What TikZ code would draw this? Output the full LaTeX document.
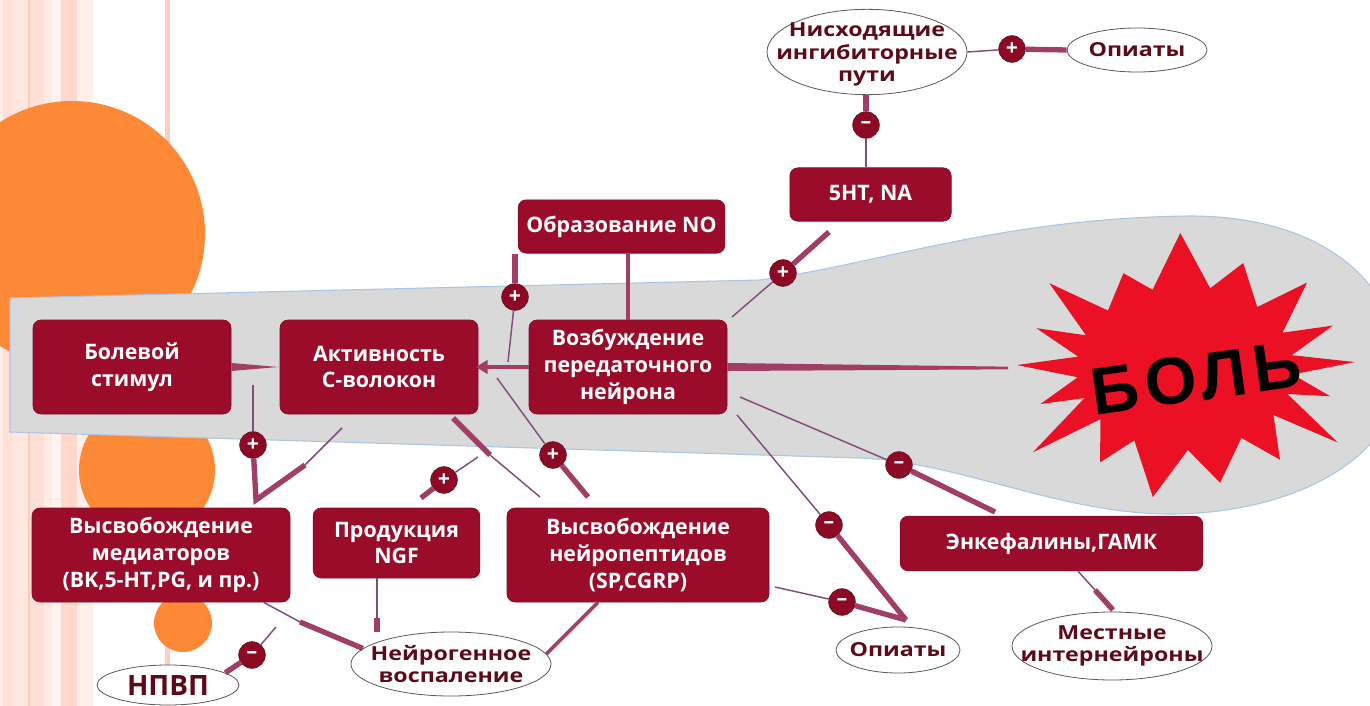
\documentclass[tikz,border=0pt]{standalone}
\usepackage{fontspec}
\setmainfont{Open Sans}
\newfontfamily\ellfont{Open Sans}[FakeStretch=1.2]
\newfontfamily\painfont{Liberation Sans}[LetterSpace=9]
\usetikzlibrary{shapes.geometric,arrows.meta,calc}
\definecolor{boxred}{RGB}{155,12,42}
\definecolor{sigred}{RGB}{140,10,35}
\definecolor{conn}{RGB}{160,62,102}
\definecolor{thinc}{RGB}{128,78,125}
\definecolor{elltext}{RGB}{95,10,25}
\definecolor{bandgrey}{RGB}{217,217,217}
\definecolor{bandedge}{RGB}{168,198,230}
\definecolor{orng}{RGB}{253,136,54}
\definecolor{starred}{RGB}{236,16,36}
\definecolor{sa}{HTML}{FFEDE8}
\definecolor{sb}{HTML}{FFDFD6}
\definecolor{sc}{HTML}{FFE6DF}
\definecolor{sd}{HTML}{FFCABB}
\definecolor{se}{HTML}{FFEAE4}
\definecolor{sf}{HTML}{FFF3EF}
\definecolor{sg}{HTML}{FFD8CB}
\definecolor{sh}{HTML}{FFEFEA}
\definecolor{si}{HTML}{FFCDC2}
\tikzset{
  rbox/.style={draw=boxred!85!black, line width=0.5pt, fill=boxred, rounded corners=6pt,
    text=white, font=\bfseries\fontsize{16}{20}\selectfont, align=center, inner sep=0pt},
  ell/.style={ellipse, draw=black!65, line width=0.6pt, fill=white, inner sep=0pt},
  ellf/.style={font=\ellfont\bfseries\fontsize{14.5}{17}\selectfont, text=elltext, align=center, inner sep=0pt},
  sig/.style={circle, fill=sigred, draw=sigred!70!black, line width=0.4pt, minimum size=20pt,
    inner sep=0pt, text=white, font=\bfseries\fontsize{16}{16}\selectfont},
  thinl/.style={draw=thinc, line width=1.1pt},
  medl/.style={draw=conn, line width=2.6pt},
  thickl/.style={draw=conn, line width=4pt},
}
\begin{document}
\begin{tikzpicture}[x=0.75pt,y=-0.75pt]
\useasboundingbox (0,0) rectangle (1370,706);
\fill[white] (0,0) rectangle (1370,706);
% stripes
\fill[sa] (0,0) rectangle (3,706);
\fill[sb] (3,0) rectangle (13,706);
\fill[sc] (13,0) rectangle (28,706);
\fill[sd] (28,0) rectangle (30,706);
\fill[sb] (30,0) rectangle (44,706);
\fill[se] (44,0) rectangle (52,706);
\fill[sf] (52,0) rectangle (61,706);
\fill[sg] (61,0) rectangle (77,706);
\fill[sh] (77,0) rectangle (93,706);
\fill[si] (165,0) rectangle (170,706);
% orange circles
\fill[orng] (72,234) circle[radius=133];
\fill[orng] (147,470) circle[radius=68];
\fill[orng] (183,623) circle[radius=29];
% grey band
\filldraw[fill=bandgrey, draw=bandedge, line width=0.8pt]
  (10,298) -- (760,280) .. controls (880,264) and (1000,218) .. (1190,216)
  .. controls (1330,216) and (1400,290) .. (1400,370)
  .. controls (1400,460) and (1290,514) .. (1170,514)
  .. controls (1060,514) and (960,462) .. (860,458) -- (10,432) -- cycle;
% star
\fill[starred] ({1185+168*cos(179)},{368-168*sin(179)})
  \foreach \a/\rx/\ry in {172/108/82, 165/154/154, 156.5/108/82, 148/160/160, 135.5/108/82,
     123/113/113, 107.5/108/82, 92/135/135, 76.5/108/82, 61/120/120, 48/108/82,
     35/149/149, 25.5/108/82, 16/154/154, 9/108/82, 2/170/170, -4.5/108/82,
     -11/148/148, -18.5/108/82, -26/170/170, -35/108/82, -44/132/132, -58.5/108/82,
     -73/120/120, -88.5/108/82, -104/133/133, -118/108/82, -132/127/127, -141.5/108/82,
     -151/174/174, -158.5/108/82, -166/149/149, -173.5/108/82}
  { -- ({1185+\rx*cos(\a)},{368-\ry*sin(\a)}) } -- cycle;
\node[rotate=8, font=\painfont\bfseries\fontsize{50}{50}\selectfont, text=black] (pain) at (1196,378) {БОЛЬ};
\coordinate (starw) at (1008,368);

% boxes
\node[rbox, minimum width=148.5pt, minimum height=70.5pt] (bol) at (132,367) {Болевой\\стимул};
\node[rbox, minimum width=148.5pt, minimum height=70.5pt] (akt) at (379,367) {Активность\\С-волокон};
\node[rbox, minimum width=148.5pt, minimum height=70.5pt] (voz) at (628,367) {Возбуждение\\передаточного\\нейрона};
\node[rbox, minimum width=155pt, minimum height=40pt] (no) at (621.5,226.5) {Образование NO};
\node[rbox, minimum width=121pt, minimum height=40pt] (sht) at (870.5,194.5) {5HT, NA};
\node[rbox, minimum width=193.5pt, minimum height=70.5pt] (med) at (161,555) {Высвобождение\\медиаторов\\(BK,5-HT,PG, и пр.)};
\node[rbox, minimum width=125pt, minimum height=52.5pt] (ngf) at (396.5,543) {Продукция\\NGF};
\node[rbox, minimum width=196.5pt, minimum height=70.5pt] (nep) at (638,555) {Высвобождение\\нейропептидов\\(SP,CGRP)};
\node[rbox, minimum width=227pt, minimum height=41pt] (enk) at (1051.5,543.5) {Энкефалины,ГАМК};

% ellipses
\node[ell, minimum width=150pt, minimum height=64pt,
  label={[ellf, yshift=-2pt]center:{Нисходящие\\ингибиторные\\пути}}] (nis) at (867,52) {};
\node[ell, minimum width=105pt, minimum height=33pt,
  label={[ellf]center:{Опиаты}}] (op1) at (1137,50) {};
\node[ell, minimum width=93pt, minimum height=34.5pt,
  label={[ellf]center:{Опиаты}}] (op2) at (898,650) {};
\node[ell, minimum width=150pt, minimum height=51pt,
  label={[ellf]center:{Местные\\интернейроны}}] (mes) at (1112,646) {};
\node[ell, minimum width=150pt, minimum height=48pt,
  label={[ellf]center:{Нейрогенное\\воспаление}}] (nvo) at (451,664) {};
\node[ell, minimum width=106.5pt, minimum height=30pt,
  label={[font=\bfseries\fontsize{21}{21}\selectfont, text=elltext, inner sep=0pt]center:{НПВП}}] (npvp) at (168,685) {};

% sign circles
\node[sig] (p1) at (515,297) {+};
\node[sig] (p2) at (783,273) {+};
\node[sig] (m1) at (866,125) {–};
\node[sig] (p3) at (1012,49) {+};
\node[sig] (p4) at (253,445) {+};
\node[sig] (p5) at (444,480) {+};
\node[sig] (p6) at (553,455) {+};
\node[sig] (m2) at (899,465) {–};
\node[sig] (m3) at (829,525) {–};
\node[sig] (m4) at (842,602) {–};
\node[sig] (m5) at (252,655) {–};

% free ends
\coordinate (d1) at (508,362);
\coordinate (e1) at (253,385);
\coordinate (e2) at (256,500);
\coordinate (e3) at (305,465);
\coordinate (e4) at (342,428);
\coordinate (f1) at (453,418);
\coordinate (f2) at (490,455);
\coordinate (f3) at (540,497);
\coordinate (g0) at (497,378);
\coordinate (g2) at (588,497);
\coordinate (h0) at (478,457);
\coordinate (h2) at (421,498);
\coordinate (i1) at (300,622);
\coordinate (j1) at (377,618);
\coordinate (l0) at (276,627);
\coordinate (n0) at (732,317);
\coordinate (n2) at (829,232);
\coordinate (q0) at (740,397);
\coordinate (q2) at (995,512);
\coordinate (r0) at (737,415);
\coordinate (s0) at (775,587);
\coordinate (opc) at (906,620);
\coordinate (t1) at (1095,590);
\coordinate (t2) at (1113,610);

% connectors
\fill[conn] ([yshift=3pt]bol.east) -- ([xshift=-1pt]akt.west) -- ([yshift=-3pt]bol.east) -- cycle;
\draw[medl, -{Triangle[length=9pt,width=10pt]}] (voz.west) -- ([xshift=-2pt]akt.east);
\draw[medl] (voz.north |- no.south) -- (voz.north);
\draw[thickl] (p1 |- no.south) -- (p1);
\draw[thinl] (p1) -- (d1);
\draw[thinl] (e1) -- (p4);
\draw[thickl] (p4) -- (e2) -- (e3);
\draw[thinl] (e3) -- (e4);
\draw[thickl] (f1) -- (f2);
\draw[thinl] (f2) -- (f3);
\draw[thinl] (g0) -- (p6);
\draw[thickl] (p6) -- (g2);
\draw[thinl] (h0) -- (p5);
\draw[thickl] (p5) -- (h2);
\draw[thinl] ([xshift=-20pt]med.south east) -- (i1);
\draw[thickl] (i1) -- (nvo.170);
\draw[thinl] (ngf.south -| j1) -- (j1);
\draw[thickl] (j1) -- (nvo.north -| j1);
\draw[medl] ([xshift=-30pt]nep.south) -- (nvo.6);
\draw[thinl] (l0) -- (m5);
\draw[thickl] (m5) -- (npvp.12);
\fill[conn] ([yshift=3pt]voz.east) -- ([yshift=1pt]starw) -- ([yshift=-1pt]starw) -- ([yshift=-3pt]voz.east) -- cycle;
\draw[thinl] (n0) -- (p2);
\draw[thickl] (p2) -- (n2);
\draw[thinl] (sht.north -| m1) -- (m1);
\draw[thickl] (m1) -- (nis.south -| m1);
\draw[thinl] (nis.east) -- (p3);
\draw[thickl] (p3) -- (op1.west);
\draw[thinl] (q0) -- (m2);
\draw[thickl] (m2) -- (q2);
\draw[thinl] (r0) -- (m3);
\draw[thickl] (m3) -- (opc);
\draw[thinl] (s0) -- (m4);
\draw[thickl] (m4) -- (opc);
\draw[thinl] (enk.south -| 1078,0) -- (t1);
\draw[thickl] (t1) -- (t2);
\end{tikzpicture}
\end{document}
